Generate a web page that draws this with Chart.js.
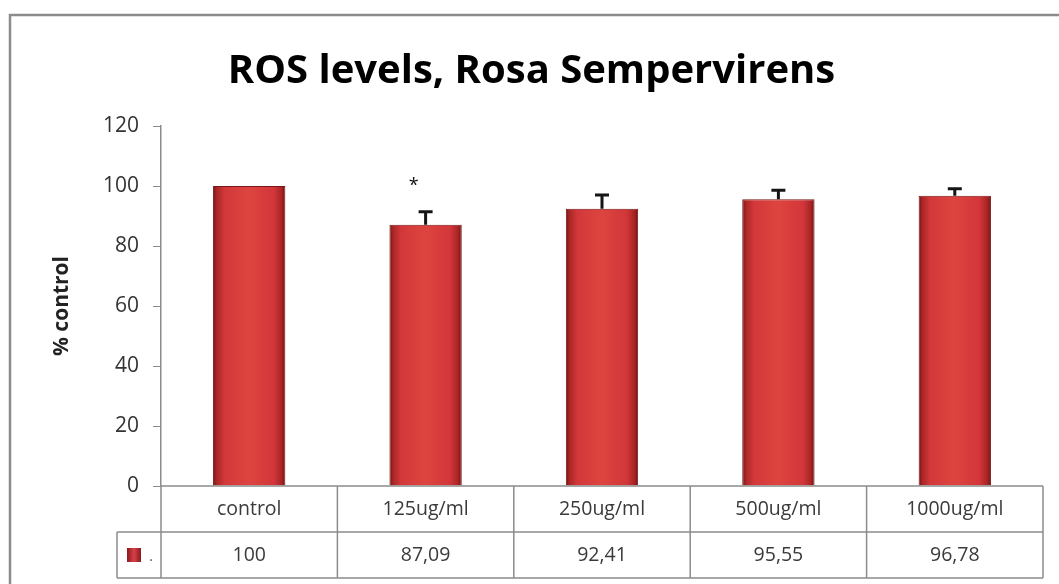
<!DOCTYPE html>
<html>
<head>
<meta charset="utf-8">
<script src="https://cdn.jsdelivr.net/npm/chart.js@4/dist/chart.umd.min.js"></script>
<style>
  html, body { margin: 0; padding: 0; background: #fff; }
  #wrap { width: 1059px; height: 584px; position: relative; }
</style>
</head>
<body>
<div id="wrap"><canvas id="ros"></canvas></div>
<script>
// Data
const categories = ['control', '125ug/ml', '250ug/ml', '500ug/ml', '1000ug/ml'];
const rosValues = [100, 87.09, 92.41, 95.55, 96.78];
const rosErrors = [0, 4.3, 4.6, 3.0, 2.3];
const significance = ['', '*', '', '', ''];
const seriesName = '.';

const BAR_PCT = 0.41;
const ROW_H = 46;
const FONT = "'Open Sans', 'DejaVu Sans', sans-serif";
const LINE_GREY = '#8c8c8c';

// Horizontal "cylinder" shading for each bar
function barFill(context) {
    const chart = context.chart;
    const area = chart.chartArea;
    if (!area || context.type !== 'data') return '#d63c3c';
    const xs = chart.scales.x;
    const cx = xs.getPixelForValue(context.dataIndex);
    const w = (xs.width / categories.length) * BAR_PCT;
    const g = chart.ctx.createLinearGradient(cx - w / 2, 0, cx + w / 2, 0);
    g.addColorStop(0, '#6e1212');
    g.addColorStop(0.05, '#aa2626');
    g.addColorStop(0.16, '#d2383a');
    g.addColorStop(0.5, '#de443f');
    g.addColorStop(0.84, '#d2363a');
    g.addColorStop(0.95, '#a82424');
    g.addColorStop(1, '#6a1010');
    return g;
}

// White background + grey outer frame
const framePlugin = {
    id: 'frame',
    beforeDraw(chart) {
        const ctx = chart.ctx;
        ctx.save();
        ctx.fillStyle = '#fff';
        ctx.fillRect(0, 0, chart.width, chart.height);
        ctx.strokeStyle = LINE_GREY;
        ctx.lineWidth = 2.5;
        ctx.strokeRect(10, 15, chart.width + 20, chart.height + 20);
        ctx.restore();
    }
};

// Error bars (upper only) and significance marks
const errorBarPlugin = {
    id: 'errorBars',
    afterDatasetsDraw(chart) {
        const ctx = chart.ctx;
        const ys = chart.scales.y;
        const meta = chart.getDatasetMeta(0);
        ctx.save();
        ctx.strokeStyle = '#151515';
        ctx.lineWidth = 3;
        meta.data.forEach((bar, i) => {
            const err = rosErrors[i];
            if (err > 0) {
                const yTop = ys.getPixelForValue(rosValues[i] + err);
                const yBase = ys.getPixelForValue(rosValues[i]);
                ctx.beginPath();
                ctx.moveTo(bar.x, yBase);
                ctx.lineTo(bar.x, yTop);
                ctx.moveTo(bar.x - 7, yTop);
                ctx.lineTo(bar.x + 7, yTop);
                ctx.stroke();
            }
            if (significance[i]) {
                ctx.fillStyle = '#111';
                ctx.font = '18px ' + FONT;
                ctx.textAlign = 'center';
                ctx.textBaseline = 'middle';
                ctx.fillText(significance[i], bar.x - 12, ys.getPixelForValue(rosValues[i] + err + 8.7));
            }
        });
        ctx.restore();
    }
};

// Data table under the plot: category row + value row with legend key
const dataTablePlugin = {
    id: 'dataTable',
    afterDraw(chart) {
        const ctx = chart.ctx;
        const xs = chart.scales.x;
        const area = chart.chartArea;
        const catW = xs.width / categories.length;
        const top = area.bottom;
        const keyLeft = area.left - 44;
        ctx.save();
        ctx.strokeStyle = LINE_GREY;
        ctx.lineWidth = 1.5;
        ctx.beginPath();
        ctx.moveTo(area.left, top);
        ctx.lineTo(area.right, top);
        ctx.moveTo(keyLeft, top + ROW_H);
        ctx.lineTo(area.right, top + ROW_H);
        ctx.moveTo(keyLeft, top + ROW_H * 2);
        ctx.lineTo(area.right, top + ROW_H * 2);
        ctx.moveTo(keyLeft, top + ROW_H);
        ctx.lineTo(keyLeft, top + ROW_H * 2);
        for (let i = 0; i <= categories.length; i++) {
            const x = area.left + i * catW;
            ctx.moveTo(x, top);
            ctx.lineTo(x, top + ROW_H * 2);
        }
        ctx.stroke();

        ctx.fillStyle = '#3a3a3a';
        ctx.font = '19.5px ' + FONT;
        ctx.textAlign = 'center';
        ctx.textBaseline = 'middle';
        categories.forEach((c, i) => {
            const cx = xs.getPixelForValue(i);
            ctx.fillText(c, cx, top + ROW_H / 2);
            ctx.fillText(String(rosValues[i]).replace('.', ','), cx, top + ROW_H * 1.5);
        });

        // legend key
        const ky = top + ROW_H * 1.5;
        const kg = ctx.createLinearGradient(keyLeft + 10, 0, keyLeft + 24, 0);
        kg.addColorStop(0, '#8a1a1a');
        kg.addColorStop(0.5, '#d8404a');
        kg.addColorStop(1, '#8a1a1a');
        ctx.fillStyle = kg;
        ctx.fillRect(keyLeft + 10, ky - 7, 14, 14);
        ctx.fillStyle = '#555';
        ctx.font = '14px ' + FONT;
        ctx.fillText(seriesName, keyLeft + 34, ky + 2);
        ctx.restore();
    }
};

new Chart(document.getElementById('ros'), {
    type: 'bar',
    data: {
        labels: categories,
        datasets: [{
            label: seriesName,
            data: rosValues,
            backgroundColor: barFill,
            borderColor: '#7a1616',
            borderWidth: 1,
            categoryPercentage: 1,
            barPercentage: BAR_PCT
        }]
    },
    options: {
        responsive: true,
        maintainAspectRatio: false,
        animation: false,
        layout: { padding: { top: 16, left: 20, right: 16, bottom: 98 } },
        scales: {
            x: { display: false },
            y: {
                min: 0,
                max: 120,
                ticks: { stepSize: 20, color: '#333', font: { size: 21, family: FONT }, padding: 14 },
                grid: { drawOnChartArea: false, drawTicks: true, tickLength: 8, color: LINE_GREY },
                border: { display: true, color: LINE_GREY, width: 1.5 },
                title: {
                    display: true,
                    text: '% control',
                    color: '#222',
                    font: { size: 21, weight: 'bold', family: FONT },
                    padding: { top: 29, bottom: 0 }
                },
                afterFit(scale) { scale.width = 141; }
            }
        },
        plugins: {
            legend: { display: false },
            tooltip: { enabled: false },
            title: {
                display: true,
                text: 'ROS levels, Rosa Sempervirens',
                color: '#000',
                font: { size: 40, weight: 'bold', family: FONT },
                padding: { top: 32, bottom: 30 }
            }
        }
    },
    plugins: [framePlugin, errorBarPlugin, dataTablePlugin]
});
</script>
</body>
</html>
